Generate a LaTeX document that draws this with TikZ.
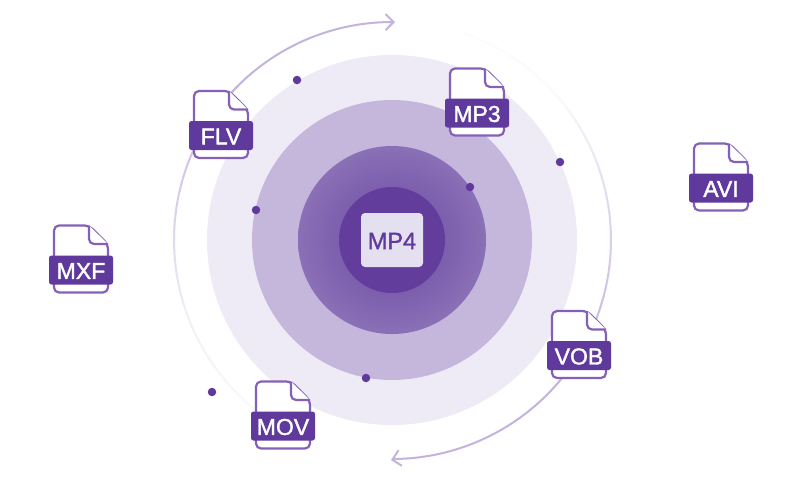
\documentclass[tikz,border=0pt]{standalone}
\usepackage{fontspec}
\setmainfont{Liberation Sans}
\newfontfamily\heavy[FakeBold=1.5]{Liberation Sans}
\usetikzlibrary{arrows.meta}
\definecolor{deep}{HTML}{5F3A9C}
\definecolor{arcc}{HTML}{C4B3DC}
\definecolor{pale}{HTML}{EEEBF6}
\definecolor{midc}{HTML}{C5B6DC}
\definecolor{ringo}{HTML}{8A70B6}
\definecolor{ringi}{HTML}{6A47A3}
\definecolor{corec}{HTML}{633D9C}
\definecolor{tilec}{HTML}{E5E0F0}
\definecolor{outl}{HTML}{8560B8}
\tikzset{
  x=1pt,y=-1pt,
  disc/.style={circle,fill=deep,inner sep=0pt,minimum size=8.5pt,draw=none},
  orbit/.style={line width=2pt,line cap=round},
  body/.style={draw=outl,line width=2.2pt,fill=white,line join=round},
  band/.style={fill=deep,rounded corners=2.5pt,draw=none},
  lab/.style={text=white,font=\heavy\fontsize{23}{23}\selectfont,inner sep=0pt},
  midtext/.style={text=deep,font=\heavy\fontsize{23.5}{23.5}\selectfont,inner sep=0pt},
  tile/.style={fill=tilec,rounded corners=4pt,minimum width=62pt,minimum height=54pt,inner sep=0pt,draw=none}
}
\newcommand{\fileicon}[4]{%
  \begin{scope}[shift={(#1,#2)}]
    \draw[body,rounded corners=5pt] (-27,22.5) -- (-27,-44.5) -- (8,-44.5) -- (27,-25.5) -- (27,22.5) -- cycle;
    \draw[body,rounded corners=5pt] (8,-44.5) -- (8,-26) -- (27,-26);
    \fill[band] (-32,-14.5) rectangle (32,14.5);
    \node[lab] (#4) at (0,1) {#3};
  \end{scope}}
\begin{document}
\begin{tikzpicture}
\useasboundingbox (0,0) rectangle (800,480);
\fill[white] (0,0) rectangle (800,480);
\coordinate (c) at (392,240);
\fill[pale] (c) circle[radius=185];
\fill[midc] (c) circle[radius=140];
\shade[inner color=ringi,outer color=ringo] (c) circle[radius=94];
\fill[corec] (c) circle[radius=53];
% left orbit
\foreach \a in {135,137,...,231}{
  \pgfmathsetmacro{\m}{\a<180 ? 100-(\a-135)*1.1 : (\a<200 ? 50.5-(\a-180)*1.5 : max(4,20.5-(\a-200)*0.4))}
  \draw[line width=2pt,color=arcc!\m!white] ({392+218*cos(\a)},{240-218*sin(\a)}) -- ({392+218*cos(\a+2.2)},{240-218*sin(\a+2.2)});
}
\draw[orbit,arcc,-{Straight Barb[length=8pt,width=16pt,line width=2pt]}] plot[domain=136:91,samples=40,smooth] ({392+218*cos(\x)},{240-218*sin(\x)}) -- (395,22);
% right orbit
\foreach \a in {325,327,...,430}{
  \pgfmathsetmacro{\m}{\a<360 ? 100-(\a-325)*1.1 : (\a<400 ? 61.5-(\a-360)*1.35 : max(3,7.5-(\a-400)*0.1))}
  \draw[line width=2pt,color=arcc!\m!white] ({392+219*cos(\a)},{240-219*sin(\a)}) -- ({392+219*cos(\a+2.2)},{240-219*sin(\a+2.2)});
}
\draw[orbit,arcc,-{Straight Barb[length=8pt,width=16pt,line width=2pt]}] plot[domain=326:271,samples=40,smooth] ({392+219*cos(\x)},{240-219*sin(\x)}) -- (391,460);
% dots
\node[disc] (d1) at (297,80) {};
\node[disc] (d2) at (560,162) {};
\node[disc] (d3) at (470,187) {};
\node[disc] (d4) at (256,210) {};
\node[disc] (d5) at (212,392) {};
\node[disc] (d6) at (366,378) {};
% centre
\node[tile] (centre) at (392,240) {};
\node[midtext] (mp4) at (392,241) {MP4};
% files
\fileicon{221}{135.5}{FLV}{flv}
\fileicon{477}{113}{MP3}{mpthree}
\fileicon{721}{188}{AVI}{avi}
\fileicon{81}{270}{MXF}{mxf}
\fileicon{579}{355.5}{VOB}{vob}
\fileicon{283}{426}{MOV}{mov}
\end{tikzpicture}
\end{document}
